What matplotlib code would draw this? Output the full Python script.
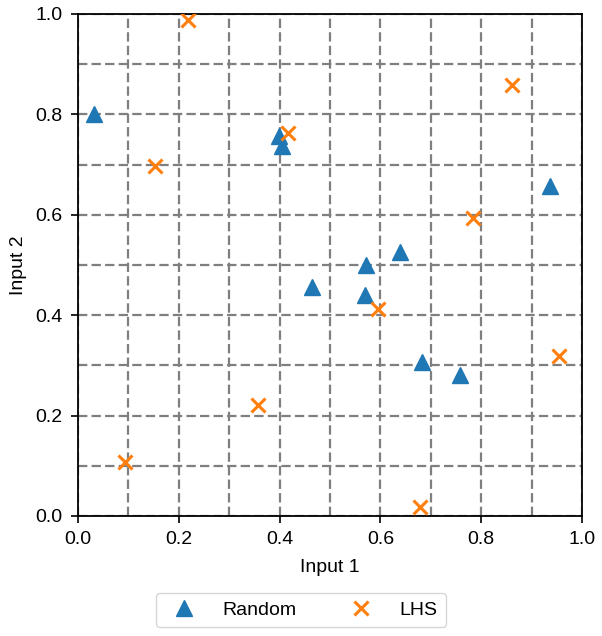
import numpy as np
import matplotlib
matplotlib.use('Agg')
import matplotlib.pyplot as plt
from matplotlib.ticker import MultipleLocator

plt.rcParams['font.family'] = ['Liberation Sans', 'DejaVu Sans']

# random samples
rand_x = [0.032, 0.399, 0.405, 0.464, 0.571, 0.569, 0.639, 0.683, 0.758, 0.937]
rand_y = [0.801, 0.757, 0.737, 0.456, 0.500, 0.440, 0.526, 0.307, 0.281, 0.657]
# latin hypercube samples
lhs_x = [0.218, 0.153, 0.417, 0.861, 0.784, 0.595, 0.954, 0.679, 0.357, 0.093]
lhs_y = [0.988, 0.697, 0.763, 0.859, 0.594, 0.412, 0.319, 0.018, 0.221, 0.108]

fig = plt.figure(figsize=(6.02, 6.36), dpi=100)
ax = fig.add_axes([78/602, 120/636, 504/602, 502/636])

ax.plot(rand_x, rand_y, ls='none', marker='^', ms=11.5, color='#1f77b4', label='Random', zorder=3)
ax.plot(lhs_x, lhs_y, ls='none', marker='x', ms=10, mew=2.2, color='#ff7f0e', label='LHS', zorder=3)

ax.set_xlim(0, 1)
ax.set_ylim(0, 1)
ax.xaxis.set_major_locator(MultipleLocator(0.2))
ax.yaxis.set_major_locator(MultipleLocator(0.2))
ax.xaxis.set_minor_locator(MultipleLocator(0.1))
ax.yaxis.set_minor_locator(MultipleLocator(0.1))
ax.grid(True, which='both', ls='--', color='#7f7f7f', lw=1.6, dashes=(4.2, 1.9))
ax.set_axisbelow(True)
ax.tick_params(which='minor', length=0)
ax.tick_params(which='major', length=5, width=1.2, labelsize=14, pad=6)
for s in ax.spines.values():
    s.set_linewidth(1.3)

ax.set_xlabel('Input 1', fontsize=14, labelpad=8)
ax.set_ylabel('Input 2', fontsize=14, labelpad=6)

fig.legend(loc='center', bbox_to_anchor=(0.5, 26/636), ncol=2, fontsize=14,
           handletextpad=1.0, columnspacing=2.3, borderpad=0.4)

fig.savefig('out.png', dpi=100)
